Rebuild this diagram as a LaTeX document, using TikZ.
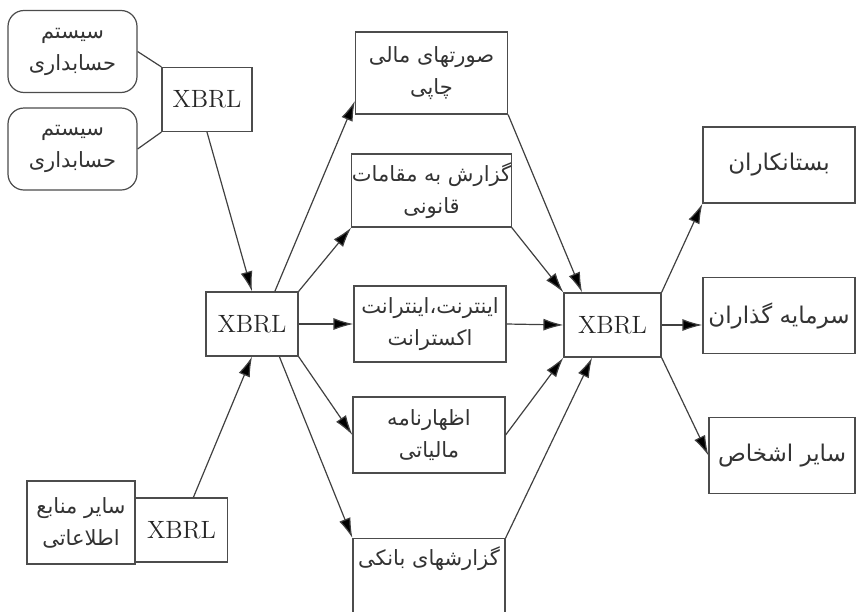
\documentclass[tikz,border=0pt]{standalone}
\usepackage{fontspec}
\usepackage{tikz}
\usetikzlibrary{
    arrows.meta,
    positioning
}
\TeXXeTstate=1
\newfontfamily\farsi[Script=Arabic]{DejaVu Sans}
\newcommand{\fa}[1]{{\farsi\beginR #1\endR}}
\tikzset{arr/.style={-{Latex[length=10pt, width=6pt]}}}
\tikzset{line/.style={line width=0.6pt, draw=black!75}}
\tikzset{xbox/.style={draw=black!70, line width=0.6pt, inner sep=0pt, text=black!85, minimum width=46pt, minimum height=32pt, font=\fontsize{12.5}{15}\selectfont}}
\tikzset{fabox/.style={draw=black!70, line width=0.6pt, inner sep=0pt, text=black!80, align=center, minimum width=76pt, minimum height=38pt, font=\fontsize{10.5}{16}\selectfont}}
\tikzset{acbox/.style={fabox, rounded corners=8pt, minimum width=64.5pt, minimum height=41pt}}
\tikzset{rbox/.style={fabox, font=\fontsize{11.5}{16}\selectfont}}

\begin{document}
\begin{tikzpicture}[x=0.5pt, y=-0.5pt]
                    \useasboundingbox (0, 0) rectangle (856, 611);

                    \node[acbox] (acc1) at (72.5, 51.5) {\fa{سیستم}\\\fa{حسابداری}};
                    \node[acbox] (acc2) at (72.5, 149) {\fa{سیستم}\\\fa{حسابداری}};
                    \node[xbox, minimum width=45pt] (xtop) at (207, 99.5) {XBRL};

                    \node[xbox] (xmid) at (252, 324) {XBRL};

                    \node[fabox, minimum width=54pt, minimum height=41.5pt] (other) at (81, 522.5) {\fa{سایر منابع}\\\fa{اطلاعاتی}};
                    \node[xbox] (xbot) at (181.5, 530) {XBRL};

                    \node[fabox, minimum height=41pt] (m1) at (431.5, 73) {\fa{صورتهای مالی}\\\fa{چاپی}};
                    \node[fabox, minimum height=36.5pt] (m2) at (431.5, 190.5) {\fa{گزارش به مقامات}\\\fa{قانونی}};
                    \node[fabox] (m3) at (430, 324) {\fa{اینترنت،اینترانت}\\\fa{اکسترانت}};
                    \node[fabox] (m4) at (429, 435) {\fa{اظهارنامه}\\\fa{مالیاتی}};
                    \node[fabox, anchor=north] (m5) at (429, 538) {\fa{گزارشهای بانکی}\\\strut};

                    \node[xbox, minimum width=48.5pt] (xr) at (612.5, 325) {XBRL};

                    \node[rbox] (r1) at (779, 165) {\fa{بستانکاران}};
                    \node[rbox] (r2) at (779, 315.5) {\fa{سرمایه گذاران}};
                    \node[rbox, minimum width=73pt] (r3) at (782, 455.5) {\fa{سایر اشخاص}};

                    \draw[line]
                    (acc1.east) -- (xtop.north west)
                    (acc2.east) -- (xtop.south west);

                    \draw[line]
                    (xtop.south) edge[arr] (xmid.north)
                    (xbot.70) edge[arr] (xmid.south)
                    (xmid.55) edge[arr] (m1.200)
                    (xmid.north east) edge[arr] (m2.south west)
                    (xmid.east) edge[arr] (m3.west)
                    (xmid.south east) edge[arr] (m4.west)
                    (xmid.-50) edge[arr] (m5.north west)
                    (m1.south east) edge[arr] (xr.133)
                    (m2.south east) edge[arr] (xr.north west)
                    (m3.east) edge[arr] (xr.west)
                    (m4.east) edge[arr] (xr.south west)
                    (m5.north east) edge[arr] (xr.238)
                    (xr.north east) edge[arr] (r1.south west)
                    (xr.east) edge[arr] (xr.east -| r2.west)
                    (xr.south east) edge[arr] (r3.west);
                \end{tikzpicture}
\end{document}
